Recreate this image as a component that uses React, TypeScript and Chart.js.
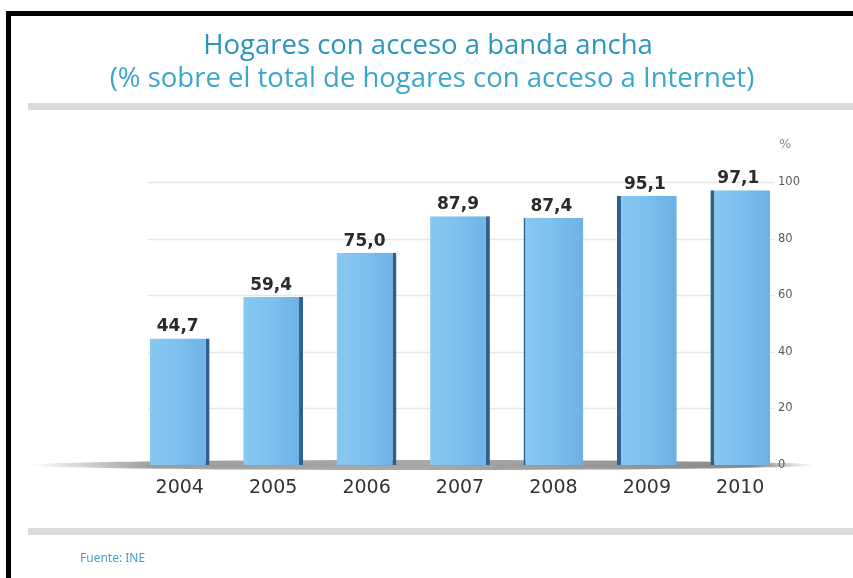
import React, { useEffect, useRef } from 'react';
import { Chart, registerables } from 'chart.js';

Chart.register(...registerables);

const years = ['2004', '2005', '2006', '2007', '2008', '2009', '2010'];
const values = [44.7, 59.4, 75.0, 87.9, 87.4, 95.1, 97.1];
const valueLabels = ['44,7', '59,4', '75,0', '87,9', '87,4', '95,1', '97,1'];
const yTicks = [0, 20, 40, 60, 80, 100];
const titleText = 'Hogares con acceso a banda ancha';
const subtitleText = '(% sobre el total de hogares con acceso a Internet)';
const sourceText = 'Fuente: INE';
const unitText = '%';

const W = 853;
const H = 578;
const BAR_PCT = 0.64;

const decorPlugin = {
  id: 'decor',
  beforeDraw(chart: any) {
    const { ctx } = chart;
    ctx.save();
    ctx.fillStyle = '#ffffff';
    ctx.fillRect(0, 0, W, H);
    ctx.textAlign = 'center';
    ctx.textBaseline = 'middle';
    ctx.fillStyle = '#2a96bd';
    ctx.font = '27.5px "Open Sans", sans-serif';
    ctx.fillText(titleText, 428, 46);
    ctx.fillStyle = '#3aa6c9';
    ctx.font = '27.5px "Open Sans", sans-serif';
    ctx.fillText(subtitleText, 432, 79);
    ctx.fillStyle = '#dadada';
    ctx.fillRect(28, 103, W - 28, 7);
    ctx.fillRect(28, 528, W - 28, 7);
    ctx.textAlign = 'left';
    ctx.fillStyle = '#4b9bc8';
    ctx.font = '12px "Noto Sans", sans-serif';
    ctx.fillText(sourceText, 80, 559);
    const y = chart.scales.y;
    ctx.fillStyle = '#888';
    ctx.font = '13px "DejaVu Sans", sans-serif';
    ctx.fillText(unitText, 779, y.getPixelForValue(100) - 37);
    ctx.restore();
  },
  beforeDatasetsDraw(chart: any) {
    const { ctx } = chart;
    const y = chart.scales.y;
    ctx.save();
    ctx.strokeStyle = '#e6e6e6';
    ctx.lineWidth = 1.5;
    y.ticks.forEach((t: any) => {
      const py = Math.round(y.getPixelForValue(t.value)) + 0.5;
      ctx.beginPath();
      ctx.moveTo(148, py);
      ctx.lineTo(775, py);
      ctx.stroke();
    });
    ctx.fillStyle = '#5a5a5a';
    ctx.font = '11.5px "DejaVu Sans", sans-serif';
    ctx.textAlign = 'left';
    ctx.textBaseline = 'middle';
    y.ticks.forEach((t: any) => {
      ctx.fillText(String(t.value), 778, y.getPixelForValue(t.value));
    });
    const y0 = y.getPixelForValue(0);
    const g = ctx.createLinearGradient(30, 0, 815, 0);
    g.addColorStop(0, 'rgba(120,120,120,0)');
    g.addColorStop(0.15, 'rgba(120,120,120,0.7)');
    g.addColorStop(0.5, 'rgba(140,140,140,0.75)');
    g.addColorStop(0.92, 'rgba(110,110,110,0.8)');
    g.addColorStop(1, 'rgba(120,120,120,0)');
    ctx.fillStyle = g;
    ctx.beginPath();
    ctx.ellipse(422, y0, 392, 5, 0, 0, Math.PI * 2);
    ctx.fill();
    ctx.restore();
  },
  afterDatasetsDraw(chart: any) {
    const { ctx } = chart;
    const meta = chart.getDatasetMeta(0);
    ctx.save();
    ctx.textAlign = 'center';
    ctx.textBaseline = 'alphabetic';
    ctx.fillStyle = '#2a2a2a';
    ctx.font = 'bold 17px "DejaVu Sans", sans-serif';
    meta.data.forEach((bar: any, i: number) => {
      ctx.fillText(valueLabels[i], bar.x - 2, bar.y - 7);
    });
    ctx.restore();
  },
};

function barFill(c: any) {
  const xs = c.chart.scales && c.chart.scales.x;
  if (!xs || !isFinite(xs.width) || xs.width <= 0) return '#7ec0ee';
  const cx = xs.getPixelForValue(c.dataIndex);
  const w = (xs.width / years.length) * BAR_PCT;
  const x0 = cx - w / 2;
  if (!isFinite(x0) || !isFinite(w)) return '#7ec0ee';
  const g = c.chart.ctx.createLinearGradient(x0, 0, x0 + w, 0);
  g.addColorStop(0, '#88c9f2');
  g.addColorStop(0.5, '#7cc0ef');
  g.addColorStop(1, '#6cb0e6');
  return g;
}

export default function App() {
  const ref = useRef<HTMLCanvasElement>(null);
  useEffect(() => {
    if (!ref.current) return;
    const chart = new Chart(ref.current, {
      type: 'bar',
      data: {
        labels: years,
        datasets: [
          {
            data: values,
            backgroundColor: barFill,
            borderColor: '#2e5f8e',
            borderWidth: (c: any) =>
              c.dataIndex >= 5 ? { left: 4 } : c.dataIndex === 4 ? { left: 2 } : { right: 4 },
            borderSkipped: false,
            categoryPercentage: 1,
            barPercentage: BAR_PCT,
          },
        ],
      },
      options: {
        animation: false,
        responsive: false,
        layout: { padding: { left: 133, top: 182, right: 66, bottom: 0 } },
        plugins: { legend: { display: false }, title: { display: false }, tooltip: { enabled: false } },
        scales: {
          x: {
            grid: { display: false, drawTicks: false },
            border: { display: false },
            ticks: {
              color: '#333',
              padding: 12,
              font: { family: '"DejaVu Sans", sans-serif', size: 19 },
            },
            afterFit: (s: any) => {
              s.height = 113;
            },
          },
          y: {
            position: 'right',
            min: 0,
            max: 100,
            afterBuildTicks: (s: any) => {
              s.ticks = yTicks.map((v) => ({ value: v }));
            },
            grid: { display: false, drawTicks: false },
            border: { display: false },
            ticks: { display: false },
            afterFit: (s: any) => {
              s.width = 0;
            },
          },
        },
      },
      plugins: [decorPlugin],
    });
    return () => chart.destroy();
  }, []);
  return (
    <div style={{ position: 'fixed', left: 0, top: 0, width: W, height: H, background: '#fff', overflow: 'hidden' }}>
      <canvas ref={ref} width={W} height={H} style={{ position: 'absolute', left: 0, top: 0 }} />
      <div style={{ position: 'absolute', left: 6, top: 11, width: W - 6, height: 5, background: '#000' }} />
      <div style={{ position: 'absolute', left: 6, top: 11, width: 5, height: H - 11, background: '#000' }} />
    </div>
  );
}
